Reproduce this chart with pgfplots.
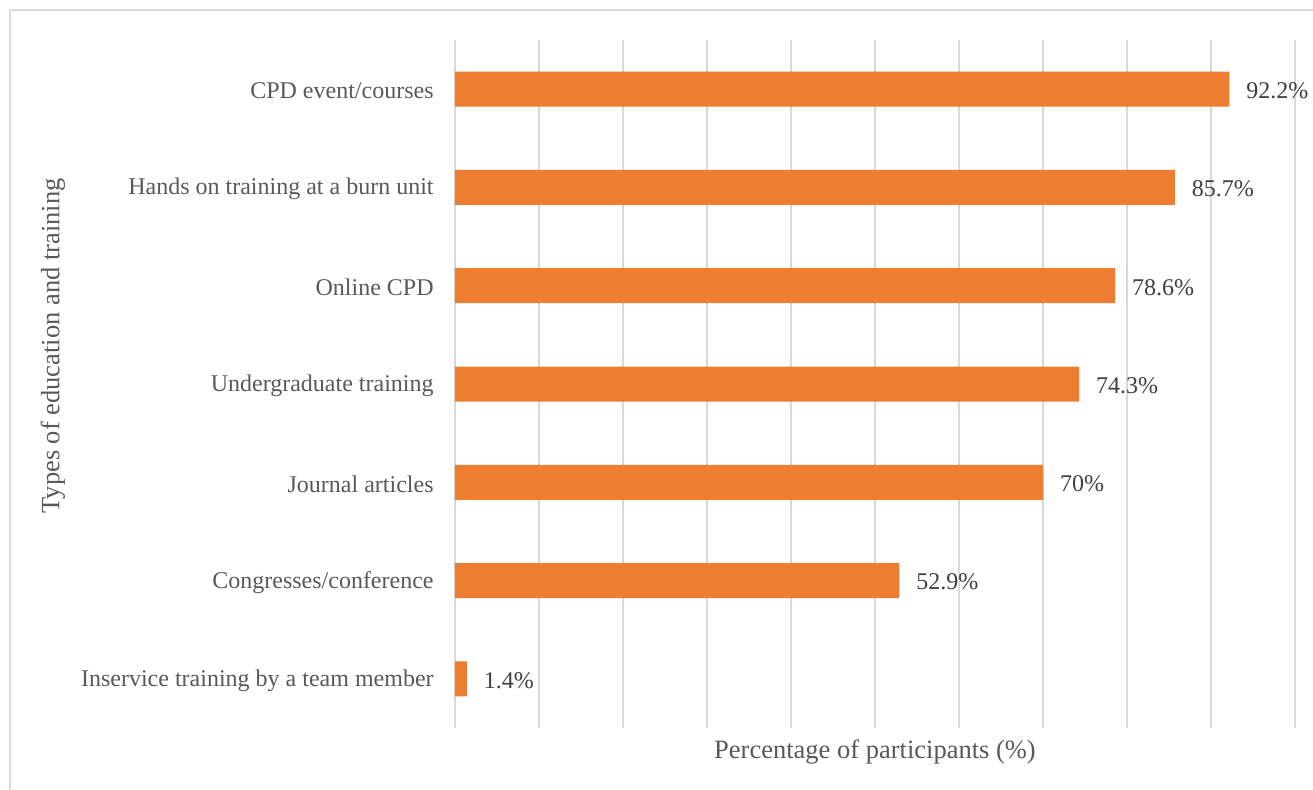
\documentclass[border=0pt]{standalone}
\usepackage{pgfplots}
\pgfplotsset{compat=1.18}
\usepackage{pgfplotstable}
\usepackage{fontspec}
\setmainfont{Liberation Serif}
\definecolor{barorange}{HTML}{ED7D31}
\definecolor{gridgray}{HTML}{D9D9D9}
\definecolor{labgray}{HTML}{595959}
\definecolor{datgray}{HTML}{404040}
\pgfplotstableread{
y value
0 1.4
1 52.9
2 70
3 74.3
4 78.6
5 85.7
6 92.2
}\datatable
\begin{document}
\begin{tikzpicture}
\useasboundingbox (0pt,0pt) rectangle (656.5pt,394.5pt);
\draw[gridgray, line width=0.75pt] (5pt,-20pt) -- (5pt,389.5pt) -- (720pt,389.5pt);
\begin{axis}[
  at={(227.5pt,30.5pt)}, anchor=south west,
  scale only axis, width=420pt, height=344pt,
  xbar, bar width=17.5pt,
  xmin=0, xmax=100, ymin=-0.5, ymax=6.5,
  enlargelimits=false, clip=false,
  axis line style={draw=none},
  xtick={0,10,...,100}, xticklabels={},
  major tick length=0pt,
  xmajorgrids, grid style={gridgray, line width=0.75pt},
  ytick={0,...,6},
  yticklabels={Inservice training by a team member, Congresses/conference, Journal articles, Undergraduate training, Online CPD, Hands on training at a burn unit, CPD event/courses},
  yticklabel style={anchor=east, inner sep=0pt, xshift=-10.5pt, yshift=-0.8pt, text=labgray, font=\fontsize{12}{14}\selectfont},
  nodes near coords={\pgfmathprintnumber{\pgfplotspointmeta}\%},
  nodes near coords style={anchor=west, inner sep=0pt, xshift=8.3pt, yshift=-0.8pt, text=datgray, font=\fontsize{12}{14}\selectfont, /pgf/number format/.cd, fixed, precision=1, assume math mode=true},
  point meta=explicit,
]
\addplot[fill=barorange, draw=none] table[x=value, y=y, meta=value] {\datatable};
\end{axis}
\node[rotate=90, text=labgray, font=\fontsize{13.25}{15}\selectfont] at (26.5pt,221.5pt) {Types of education and training};
\node[text=labgray, font=\fontsize{13.25}{15}\selectfont] at (437.5pt,18.5pt) {Percentage of participants (\%)};
\end{tikzpicture}
\end{document}
